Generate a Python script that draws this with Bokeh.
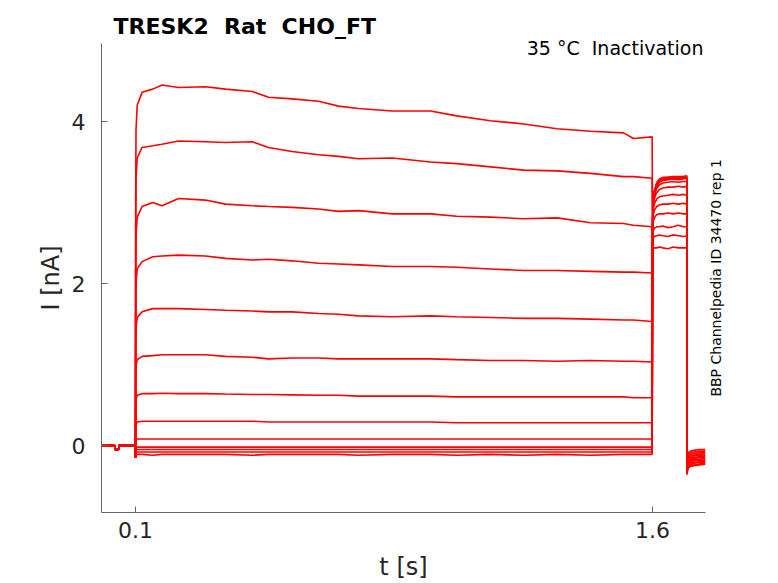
import math
from bokeh.plotting import figure
from bokeh.models import Range1d, FixedTicker, Label
from bokeh.embed import file_html
from bokeh.resources import INLINE

# ---- data ----
BASE_T = [0.0014, 0.040, 0.0402, 0.0515, 0.0517, 0.0998, 0.1]
BASE_I = [0.0, 0.0, -0.05, -0.05, 0.0, 0.0, -0.15]

STEP_T = [0.1005, 0.1015, 0.105, 0.119, 0.15, 0.177, 0.225, 0.303, 0.361, 0.439,
          0.486, 0.554, 0.631, 0.689, 0.747, 0.845, 0.956, 1.032, 1.13, 1.226,
          1.323, 1.42, 1.516, 1.545, 1.599]
STEP_1 = [3.0, 3.9, 4.2, 4.36, 4.40, 4.45, 4.42, 4.43, 4.40, 4.37, 4.30, 4.28, 4.25,
          4.19, 4.16, 4.13, 4.13, 4.07, 4.01, 3.97, 3.91, 3.88, 3.86, 3.79, 3.81]
STEP_2 = [2.5, 3.3, 3.55, 3.68, 3.70, 3.72, 3.76, 3.75, 3.74, 3.75, 3.68, 3.63, 3.59,
          3.57, 3.54, 3.55, 3.50, 3.48, 3.44, 3.40, 3.39, 3.36, 3.32, 3.32, 3.30]
STEP_3 = [2.0, 2.6, 2.82, 2.95, 3.00, 2.96, 3.05, 3.03, 2.98, 2.96, 2.95, 2.94, 2.92,
          2.89, 2.90, 2.86, 2.86, 2.83, 2.82, 2.80, 2.81, 2.75, 2.74, 2.72, 2.70]
STEP_4 = [1.6, 2.0, 2.18, 2.27, 2.33, 2.34, 2.35, 2.34, 2.31, 2.29, 2.30, 2.28, 2.25,
          2.24, 2.23, 2.21, 2.21, 2.20, 2.18, 2.16, 2.16, 2.15, 2.14, 2.14, 2.13]
STEP_5 = [1.2, 1.45, 1.58, 1.65, 1.69, 1.69, 1.69, 1.68, 1.67, 1.66, 1.65, 1.65, 1.63,
          1.62, 1.60, 1.59, 1.60, 1.59, 1.58, 1.57, 1.57, 1.56, 1.55, 1.55, 1.53]
STEP_6 = [0.8, 0.98, 1.06, 1.10, 1.11, 1.12, 1.12, 1.12, 1.10, 1.09, 1.07, 1.08, 1.08,
          1.07, 1.07, 1.07, 1.07, 1.06, 1.05, 1.05, 1.04, 1.05, 1.04, 1.04, 1.03]
STEP_7 = [0.45, 0.57, 0.62, 0.64, 0.64, 0.645, 0.64, 0.64, 0.635, 0.63, 0.63, 0.625, 0.62,
          0.62, 0.61, 0.61, 0.61, 0.60, 0.60, 0.60, 0.60, 0.60, 0.60, 0.59, 0.59]
STEP_8 = [0.20, 0.26, 0.29, 0.30, 0.30, 0.30, 0.30, 0.30, 0.30, 0.30, 0.29, 0.29, 0.29,
          0.29, 0.29, 0.29, 0.29, 0.28, 0.28, 0.28, 0.28, 0.28, 0.28, 0.28, 0.28]
STEP_9 = [0.05, 0.07, 0.08, 0.08, 0.08, 0.08, 0.08, 0.08, 0.08, 0.08, 0.08, 0.08, 0.08,
          0.08, 0.08, 0.08, 0.08, 0.08, 0.08, 0.08, 0.08, 0.08, 0.08, 0.08, 0.08]
STEP_10 = [-0.04, -0.02, -0.02, -0.02, -0.02, -0.02, -0.02, -0.02, -0.02, -0.02, -0.02, -0.02, -0.02,
           -0.02, -0.02, -0.02, -0.02, -0.02, -0.02, -0.02, -0.02, -0.02, -0.02, -0.02, -0.02]
STEP_11 = [-0.07, -0.05, -0.05, -0.05, -0.05, -0.05, -0.05, -0.05, -0.05, -0.05, -0.05, -0.05, -0.05,
           -0.05, -0.05, -0.05, -0.05, -0.05, -0.05, -0.05, -0.05, -0.05, -0.05, -0.05, -0.05]
STEP_12 = [-0.10, -0.08, -0.08, -0.08, -0.08, -0.08, -0.08, -0.08, -0.08, -0.08, -0.08, -0.08, -0.08,
           -0.08, -0.08, -0.08, -0.08, -0.08, -0.08, -0.08, -0.08, -0.08, -0.08, -0.08, -0.08]
STEP_13 = [-0.14, -0.11, -0.11, -0.11, -0.12, -0.11, -0.11, -0.11, -0.11, -0.12, -0.11, -0.11, -0.11,
           -0.11, -0.12, -0.11, -0.11, -0.12, -0.11, -0.12, -0.11, -0.12, -0.11, -0.11, -0.11]

TAIL_T = [1.6005, 1.6015, 1.605, 1.612, 1.62, 1.63, 1.645, 1.66, 1.675, 1.69, 1.6995]
TAIL_1 = [2.40, 2.42, 2.44, 2.44, 2.45, 2.44, 2.43, 2.45, 2.44, 2.44, 2.44]
TAIL_2 = [2.50, 2.55, 2.58, 2.59, 2.60, 2.59, 2.58, 2.60, 2.59, 2.58, 2.59]
TAIL_3 = [2.58, 2.64, 2.68, 2.70, 2.70, 2.71, 2.69, 2.70, 2.72, 2.70, 2.70]
TAIL_4 = [2.65, 2.75, 2.81, 2.85, 2.86, 2.86, 2.87, 2.86, 2.87, 2.86, 2.86]
TAIL_5 = [2.70, 2.82, 2.90, 2.95, 2.97, 2.98, 2.98, 2.99, 2.98, 2.99, 2.98]
TAIL_6 = [2.72, 2.88, 2.98, 3.04, 3.07, 3.08, 3.09, 3.10, 3.09, 3.10, 3.09]
TAIL_7 = [2.74, 2.92, 3.04, 3.12, 3.16, 3.18, 3.19, 3.19, 3.20, 3.19, 3.20]
TAIL_8 = [2.75, 2.95, 3.08, 3.17, 3.22, 3.24, 3.25, 3.26, 3.25, 3.26, 3.26]
TAIL_9 = [2.76, 2.96, 3.10, 3.20, 3.25, 3.27, 3.28, 3.29, 3.28, 3.29, 3.30]
TAIL_10 = [2.77, 2.97, 3.11, 3.21, 3.26, 3.28, 3.29, 3.30, 3.29, 3.30, 3.30]
TAIL_11 = [2.78, 2.98, 3.12, 3.22, 3.27, 3.29, 3.30, 3.31, 3.30, 3.31, 3.31]
TAIL_12 = [2.78, 2.99, 3.13, 3.23, 3.28, 3.30, 3.31, 3.31, 3.31, 3.32, 3.31]
TAIL_13 = [2.79, 3.00, 3.14, 3.24, 3.29, 3.31, 3.31, 3.32, 3.32, 3.32, 3.33]

FINAL_T = [1.7, 1.7015, 1.704, 1.71, 1.72, 1.735, 1.753]
FINAL_1 = [-0.18, -0.12, -0.09, -0.07, -0.06, -0.05, -0.05]
FINAL_2 = [-0.20, -0.14, -0.11, -0.09, -0.08, -0.07, -0.07]
FINAL_3 = [-0.22, -0.16, -0.13, -0.11, -0.10, -0.09, -0.09]
FINAL_4 = [-0.24, -0.18, -0.15, -0.13, -0.12, -0.11, -0.10]
FINAL_5 = [-0.26, -0.20, -0.17, -0.15, -0.13, -0.12, -0.12]
FINAL_6 = [-0.28, -0.22, -0.19, -0.16, -0.15, -0.14, -0.13]
FINAL_7 = [-0.30, -0.24, -0.20, -0.18, -0.16, -0.15, -0.15]
FINAL_8 = [-0.31, -0.25, -0.22, -0.19, -0.18, -0.17, -0.16]
FINAL_9 = [-0.32, -0.27, -0.23, -0.21, -0.19, -0.18, -0.18]
FINAL_10 = [-0.33, -0.28, -0.25, -0.22, -0.21, -0.20, -0.19]
FINAL_11 = [-0.34, -0.29, -0.26, -0.24, -0.22, -0.21, -0.21]
FINAL_12 = [-0.35, -0.30, -0.27, -0.25, -0.24, -0.23, -0.22]
FINAL_13 = [-0.36, -0.31, -0.28, -0.26, -0.25, -0.24, -0.23]

STEPS = [STEP_1, STEP_2, STEP_3, STEP_4, STEP_5, STEP_6, STEP_7, STEP_8, STEP_9,
         STEP_10, STEP_11, STEP_12, STEP_13]
TAILS = [TAIL_1, TAIL_2, TAIL_3, TAIL_4, TAIL_5, TAIL_6, TAIL_7, TAIL_8, TAIL_9,
         TAIL_10, TAIL_11, TAIL_12, TAIL_13]
FINALS = [FINAL_1, FINAL_2, FINAL_3, FINAL_4, FINAL_5, FINAL_6, FINAL_7, FINAL_8,
          FINAL_9, FINAL_10, FINAL_11, FINAL_12, FINAL_13]

X_TICKS = [0.1, 1.6]
Y_TICKS = [0, 2, 4]
X_AXIS_SPAN = (0.00135, 1.7536)
Y_AXIS_SPAN = (-0.827, 4.963)

TITLE = "TRESK2\u00a0\u00a0Rat\u00a0\u00a0CHO_FT"
SUBTITLE = "35\u00a0\u00b0C\u00a0\u00a0Inactivation"
SIDE_NOTE = "BBP Channelpedia ID 34470 rep 1"
X_LABEL = "t [s]"
Y_LABEL = "I [nA]"

# ---- figure ----
FONT = "DejaVu Sans"
p = figure(width=770, height=583, output_backend="svg", toolbar_location=None,
           x_range=Range1d(-0.29168, 1.9424), y_range=Range1d(-1.7037, 5.494),
           min_border_left=0, min_border_right=0, min_border_top=0,
           min_border_bottom=0)
p.outline_line_color = None
p.xgrid.visible = False
p.ygrid.visible = False
p.background_fill_color = "white"
p.border_fill_color = "white"

for step, tail, final in zip(STEPS, TAILS, FINALS):
    xs = BASE_T + STEP_T + TAIL_T + FINAL_T
    ys = BASE_I + step + tail + final
    p.line(xs, ys, line_color="#ff0000", line_width=1.6)

for ax, ticks, span in ((p.xaxis, X_TICKS, X_AXIS_SPAN), (p.yaxis, Y_TICKS, Y_AXIS_SPAN)):
    ax.ticker = FixedTicker(ticks=ticks)
    ax.bounds = span
    ax.minor_tick_line_color = None
    ax.major_tick_in = 6
    ax.major_tick_out = 0
    ax.axis_line_color = "#666666"
    ax.major_tick_line_color = "#666666"
    ax.major_label_text_font = FONT
    ax.major_label_text_font_size = "22px"
    ax.major_label_text_color = "#262626"

p.xaxis.fixed_location = Y_AXIS_SPAN[0]
p.yaxis.fixed_location = X_AXIS_SPAN[0]
p.xaxis.major_label_standoff = 10
p.yaxis.major_label_standoff = 16

p.add_layout(Label(x=0.8776, y=-1.506, text=X_LABEL, text_font=FONT,
                   text_font_size="24px", text_color="#262626",
                   text_baseline="middle", text_align="center"))
p.add_layout(Label(x=-0.1466, y=2.068, text=Y_LABEL, text_font=FONT,
                   text_font_size="24px", text_color="#262626",
                   text_baseline="middle", text_align="center",
                   angle=math.pi / 2))
p.add_layout(Label(x=0.0362, y=5.17, text=TITLE, text_font=FONT,
                   text_font_size="22px", text_font_style="bold",
                   text_color="#000000", text_baseline="alphabetic",
                   text_align="left"))
p.add_layout(Label(x=1.748, y=4.91, text=SUBTITLE, text_font=FONT,
                   text_font_size="19px", text_color="#000000",
                   text_baseline="alphabetic", text_align="right"))
p.add_layout(Label(x=1.7857, y=2.07, text=SIDE_NOTE, text_font=FONT,
                   text_font_size="14px", text_color="#000000",
                   text_baseline="middle", text_align="center",
                   angle=math.pi / 2))

open("out.html", "w").write(file_html(p, INLINE))
